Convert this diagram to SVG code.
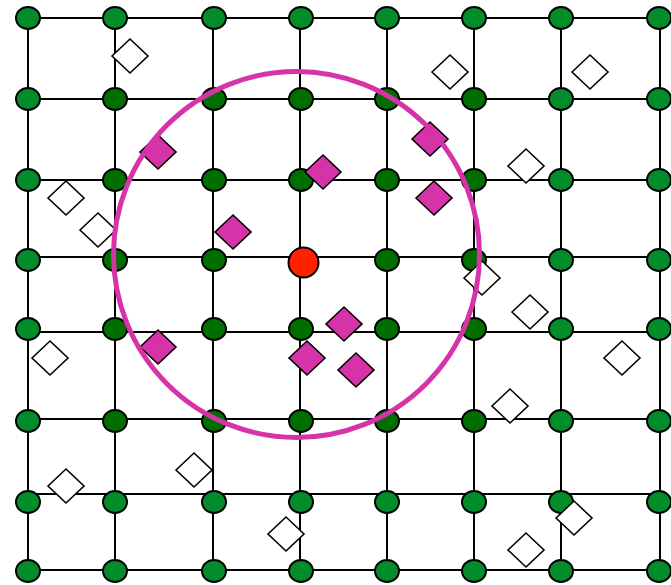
<svg xmlns="http://www.w3.org/2000/svg" xmlns:xlink="http://www.w3.org/1999/xlink" width="671" height="585" viewBox="0 0 671 585">
<style>
.ln{stroke:#000;stroke-width:2;fill:none}
.g{fill:#038C2A;stroke:#000;stroke-width:2}
.d{fill:#006F00;stroke:#000;stroke-width:2}
.w{fill:#fff;stroke:#000;stroke-width:1.6}
.m{fill:#D633A8;stroke:#000;stroke-width:1.6}
</style>
<defs>
<polygon id="dm" points="-18,0 0,-17 18,0 0,17"/>
</defs>
<rect width="671" height="585" fill="#fff"/>
<g id="connectors" class="ln">
<path d="M28,18V570M115,18V570M213,18V570M300,18V570M387,18V570M474,18V570M561,18V570M660,18V570"/>
<path d="M28,18H660M28,99H660M28,180H660M28,257H660M28,332H660M28,419H660M28,494H660M28,570H660"/>
</g>
<g id="nodes">
<g id="r0"><ellipse class="g" cx="28" cy="18" rx="12" ry="11"/><ellipse class="g" cx="115" cy="18" rx="12" ry="11"/><ellipse class="g" cx="214" cy="18" rx="12" ry="11"/><ellipse class="g" cx="301" cy="18" rx="12" ry="11"/><ellipse class="g" cx="387" cy="18" rx="12" ry="11"/><ellipse class="g" cx="474" cy="18" rx="12" ry="11"/><ellipse class="g" cx="561" cy="18" rx="12" ry="11"/><ellipse class="g" cx="659" cy="18" rx="12" ry="11"/></g>
<g id="r1"><ellipse class="g" cx="28" cy="99" rx="12" ry="11"/><ellipse class="d" cx="115" cy="99" rx="12" ry="11"/><ellipse class="d" cx="214" cy="99" rx="12" ry="11"/><ellipse class="d" cx="301" cy="99" rx="12" ry="11"/><ellipse class="d" cx="387" cy="99" rx="12" ry="11"/><ellipse class="d" cx="474" cy="99" rx="12" ry="11"/><ellipse class="g" cx="561" cy="99" rx="12" ry="11"/><ellipse class="g" cx="659" cy="99" rx="12" ry="11"/></g>
<g id="r2"><ellipse class="g" cx="28" cy="180" rx="12" ry="11"/><ellipse class="d" cx="115" cy="180" rx="12" ry="11"/><ellipse class="d" cx="214" cy="180" rx="12" ry="11"/><ellipse class="d" cx="301" cy="180" rx="12" ry="11"/><ellipse class="d" cx="387" cy="180" rx="12" ry="11"/><ellipse class="d" cx="474" cy="180" rx="12" ry="11"/><ellipse class="g" cx="561" cy="180" rx="12" ry="11"/><ellipse class="g" cx="659" cy="180" rx="12" ry="11"/></g>
<g id="r3"><ellipse class="g" cx="28" cy="260" rx="12" ry="11"/><ellipse class="d" cx="115" cy="260" rx="12" ry="11"/><ellipse class="d" cx="214" cy="260" rx="12" ry="11"/><ellipse class="d" cx="387" cy="260" rx="12" ry="11"/><ellipse class="d" cx="474" cy="260" rx="12" ry="11"/><ellipse class="g" cx="561" cy="260" rx="12" ry="11"/><ellipse class="g" cx="659" cy="260" rx="12" ry="11"/></g>
<g id="r4"><ellipse class="g" cx="28" cy="329" rx="12" ry="11"/><ellipse class="d" cx="115" cy="329" rx="12" ry="11"/><ellipse class="d" cx="214" cy="329" rx="12" ry="11"/><ellipse class="d" cx="301" cy="329" rx="12" ry="11"/><ellipse class="d" cx="387" cy="329" rx="12" ry="11"/><ellipse class="d" cx="474" cy="329" rx="12" ry="11"/><ellipse class="g" cx="561" cy="329" rx="12" ry="11"/><ellipse class="g" cx="659" cy="329" rx="12" ry="11"/></g>
<g id="r5"><ellipse class="g" cx="28" cy="421" rx="12" ry="11"/><ellipse class="d" cx="115" cy="421" rx="12" ry="11"/><ellipse class="d" cx="214" cy="421" rx="12" ry="11"/><ellipse class="d" cx="301" cy="421" rx="12" ry="11"/><ellipse class="d" cx="387" cy="421" rx="12" ry="11"/><ellipse class="d" cx="474" cy="421" rx="12" ry="11"/><ellipse class="g" cx="561" cy="421" rx="12" ry="11"/><ellipse class="g" cx="659" cy="421" rx="12" ry="11"/></g>
<g id="r6"><ellipse class="g" cx="28" cy="502" rx="12" ry="11"/><ellipse class="g" cx="115" cy="502" rx="12" ry="11"/><ellipse class="g" cx="214" cy="502" rx="12" ry="11"/><ellipse class="g" cx="301" cy="502" rx="12" ry="11"/><ellipse class="g" cx="387" cy="502" rx="12" ry="11"/><ellipse class="g" cx="474" cy="502" rx="12" ry="11"/><ellipse class="g" cx="561" cy="502" rx="12" ry="11"/><ellipse class="g" cx="659" cy="502" rx="12" ry="11"/></g>
<g id="r7"><ellipse class="g" cx="28" cy="571" rx="12" ry="11"/><ellipse class="g" cx="115" cy="571" rx="12" ry="11"/><ellipse class="g" cx="214" cy="571" rx="12" ry="11"/><ellipse class="g" cx="301" cy="571" rx="12" ry="11"/><ellipse class="g" cx="387" cy="571" rx="12" ry="11"/><ellipse class="g" cx="474" cy="571" rx="12" ry="11"/><ellipse class="g" cx="561" cy="571" rx="12" ry="11"/><ellipse class="g" cx="659" cy="571" rx="12" ry="11"/></g>
</g>
<g id="white-diamonds" class="w">
<use xlink:href="#dm" x="130" y="56"/>
<use xlink:href="#dm" x="450" y="72"/>
<use xlink:href="#dm" x="590" y="72"/>
<use xlink:href="#dm" x="526" y="166"/>
<use xlink:href="#dm" x="66" y="198"/>
<use xlink:href="#dm" x="98" y="230"/>
<use xlink:href="#dm" x="50" y="358"/>
<use xlink:href="#dm" x="482" y="278"/>
<use xlink:href="#dm" x="530" y="312"/>
<use xlink:href="#dm" x="622" y="358"/>
<use xlink:href="#dm" x="510" y="406"/>
<use xlink:href="#dm" x="194" y="470"/>
<use xlink:href="#dm" x="66" y="486"/>
<use xlink:href="#dm" x="286" y="534"/>
<use xlink:href="#dm" x="574" y="518"/>
<use xlink:href="#dm" x="526" y="550"/>
</g>
<g id="magenta-diamonds" class="m">
<use xlink:href="#dm" x="158" y="152"/>
<use xlink:href="#dm" x="323" y="172"/>
<use xlink:href="#dm" x="430" y="139"/>
<use xlink:href="#dm" x="434" y="198"/>
<use xlink:href="#dm" x="233" y="232"/>
<use xlink:href="#dm" x="158" y="347"/>
<use xlink:href="#dm" x="344" y="324"/>
<use xlink:href="#dm" x="307" y="358"/>
<use xlink:href="#dm" x="356" y="370"/>
</g>
<g id="range"><circle cx="296.5" cy="254.5" r="183" fill="none" stroke="#D633A8" stroke-width="5"/></g>
<g id="center"><circle cx="303.5" cy="262.5" r="15" fill="#FF2200" stroke="#000" stroke-width="2"/></g>
</svg>
